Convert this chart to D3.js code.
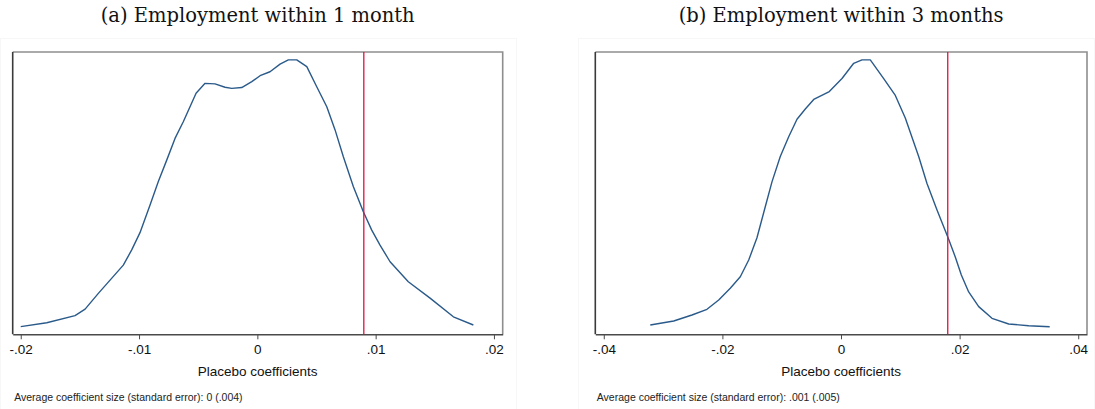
<!DOCTYPE html>
<html>
<head>
<meta charset="utf-8">
<script src="https://cdn.jsdelivr.net/npm/d3@7"></script>
<style>
  html, body { margin: 0; padding: 0; background: #ffffff; }
  svg { display: block; }
</style>
</head>
<body>
<svg id="chart" width="1095" height="409"></svg>
<script>
// Kernel density of placebo coefficients, employment within 1 month
const coefA = [-0.0200, -0.0178, -0.01541, -0.01456, -0.01344, -0.01245, -0.01133, -0.01062,
  -0.00992, -0.00907, -0.00837, -0.00766, -0.00696, -0.00626, -0.00518, -0.00442, -0.00358,
  -0.00273, -0.00216, -0.00132, -0.00047, 0.00023, 0.00107, 0.00192, 0.00262, 0.00333,
  0.00418, 0.00502, 0.00587, 0.00657, 0.00727, 0.00812, 0.00896, 0.00967, 0.01037, 0.01122,
  0.01276, 0.01460, 0.01657, 0.01826];
const densA = [2.7, 4.1, 6.6, 8.9, 14.5, 19.2, 24.5, 29.9, 36.0, 45.8, 54.1, 61.7, 69.4, 75.3,
  85.4, 88.9, 88.7, 87.5, 87.1, 87.4, 89.5, 91.6, 93.0, 95.7, 97.2, 97.2, 94.8, 87.7, 80.6,
  72.4, 62.9, 52.3, 43.4, 36.9, 31.6, 25.7, 18.6, 12.8, 6.2, 3.3];

// Kernel density of placebo coefficients, employment within 3 months
const coefB = [-0.03216, -0.02821, -0.02513, -0.02260, -0.02062, -0.01867, -0.01698, -0.01556,
  -0.01417, -0.01277, -0.01164, -0.01024, -0.00882, -0.00742, -0.00602, -0.00460, -0.00197,
  0.00017, 0.00214, 0.00354, 0.00494, 0.00720, 0.00916, 0.01084, 0.01310, 0.01450, 0.01619,
  0.01809, 0.01927, 0.02029, 0.02153, 0.02322, 0.02546, 0.02828, 0.03165, 0.03519];
const densB = [1.65, 2.36, 3.42, 4.43, 6.08, 8.15, 10.2, 13.16, 17.1, 22.6, 27.0, 31.5, 35.0,
  38.1, 39.9, 41.6, 43.0, 45.3, 48.0, 48.6, 48.6, 45.3, 42.3, 38.3, 31.5, 26.7, 22.0, 17.0,
  13.7, 10.5, 7.5, 4.9, 2.83, 1.82, 1.52, 1.35];

// Actual estimated coefficients (vertical reference lines)
const actualA = 0.009;
const actualB = 0.018;

// Axis ticks
const ticksA = [-0.02, -0.01, 0, 0.01, 0.02];
const tickLabelsA = ["-.02", "-.01", "0", ".01", ".02"];
const ticksB = [-0.04, -0.02, 0, 0.02, 0.04];
const tickLabelsB = ["-.04", "-.02", "0", ".02", ".04"];

// Text
const titleA = "(a) Employment within 1 month";
const titleB = "(b) Employment within 3 months";
const xTitle = "Placebo coefficients";
const noteA = "Average coefficient size (standard error): 0 (.004)";
const noteB = "Average coefficient size (standard error): .001 (.005)";

const svg = d3.select("#chart");

function drawPanel(opt) {
  const g = svg.append("g");

  // faint border of the exported graph region
  g.append("rect")
    .attr("x", opt.region[0] + 0.5).attr("y", 38.5)
    .attr("width", opt.region[1] - opt.region[0] - 1).attr("height", 380)
    .attr("fill", "none").attr("stroke", "#f7f7f7").attr("stroke-width", 1);

  const x = d3.scaleLinear().domain(opt.xDomain).range([opt.left, opt.right]);
  const y = d3.scaleLinear().domain(opt.yDomain).range([334.3, 52]);
  const top = y.range()[1], bottom = y.range()[0];

  // plot region outline: top and right in grey
  g.append("path")
    .attr("d", `M${opt.left},${top}H${opt.right}V${bottom}`)
    .attr("fill", "none").attr("stroke", "#8e8e8e").attr("stroke-width", 1.6);

  // left axis line
  g.append("line")
    .attr("x1", opt.left).attr("x2", opt.left).attr("y1", top).attr("y2", bottom)
    .attr("stroke", "#3a3a3a").attr("stroke-width", 1.6);

  // bottom axis
  const axis = d3.axisBottom(x)
    .tickValues(opt.ticks)
    .tickFormat((d, i) => opt.tickLabels[i])
    .tickSizeInner(5).tickSizeOuter(0).tickPadding(5);
  const ax = g.append("g").attr("transform", `translate(0,${bottom})`).call(axis);
  ax.select(".domain").attr("stroke", "#4a4a4a").attr("stroke-width", 1.6);
  ax.selectAll(".tick line").attr("stroke", "#4a4a4a").attr("stroke-width", 1);
  ax.selectAll(".tick text")
    .attr("fill", "#111").attr("font-family", "Liberation Sans, Arial, sans-serif")
    .attr("font-size", 13.5);

  // density curve
  const pts = opt.coef.map((c, i) => [c, opt.dens[i]]);
  g.append("path")
    .datum(pts)
    .attr("fill", "none").attr("stroke", "#2a5a8a").attr("stroke-width", 1.4)
    .attr("stroke-linejoin", "round")
    .attr("d", d3.line().x(d => x(d[0])).y(d => y(d[1])));

  // actual coefficient
  g.append("line")
    .attr("x1", x(opt.actual)).attr("x2", x(opt.actual))
    .attr("y1", top).attr("y2", bottom)
    .attr("stroke", "#e0103c").attr("stroke-width", 1.3);

  // titles and note
  g.append("text")
    .attr("x", (opt.left + opt.right) / 2).attr("y", 22)
    .attr("text-anchor", "middle")
    .attr("font-family", "DejaVu Serif, serif").attr("font-size", 19.5)
    .attr("fill", "#111").text(opt.title);

  g.append("text")
    .attr("x", (opt.left + opt.right) / 2).attr("y", 376)
    .attr("text-anchor", "middle")
    .attr("font-family", "Liberation Sans, Arial, sans-serif").attr("font-size", 13.5)
    .attr("fill", "#111").text(xTitle);

  g.append("text")
    .attr("x", opt.left + 1.5).attr("y", 401)
    .attr("font-family", "Liberation Sans, Arial, sans-serif").attr("font-size", 10.5)
    .attr("fill", "#222").text(opt.note);
}

drawPanel({
  region: [0, 517], left: 12.7, right: 502.7,
  xDomain: [-0.02068, 0.02074], yDomain: [0, 100],
  coef: coefA, dens: densA, actual: actualA,
  ticks: ticksA, tickLabels: tickLabelsA, title: titleA, note: noteA
});

drawPanel({
  region: [578, 1095], left: 595.3, right: 1087,
  xDomain: [-0.04143, 0.04148], yDomain: [0, 50],
  coef: coefB, dens: densB, actual: actualB,
  ticks: ticksB, tickLabels: tickLabelsB, title: titleB, note: noteB
});
</script>
</body>
</html>
